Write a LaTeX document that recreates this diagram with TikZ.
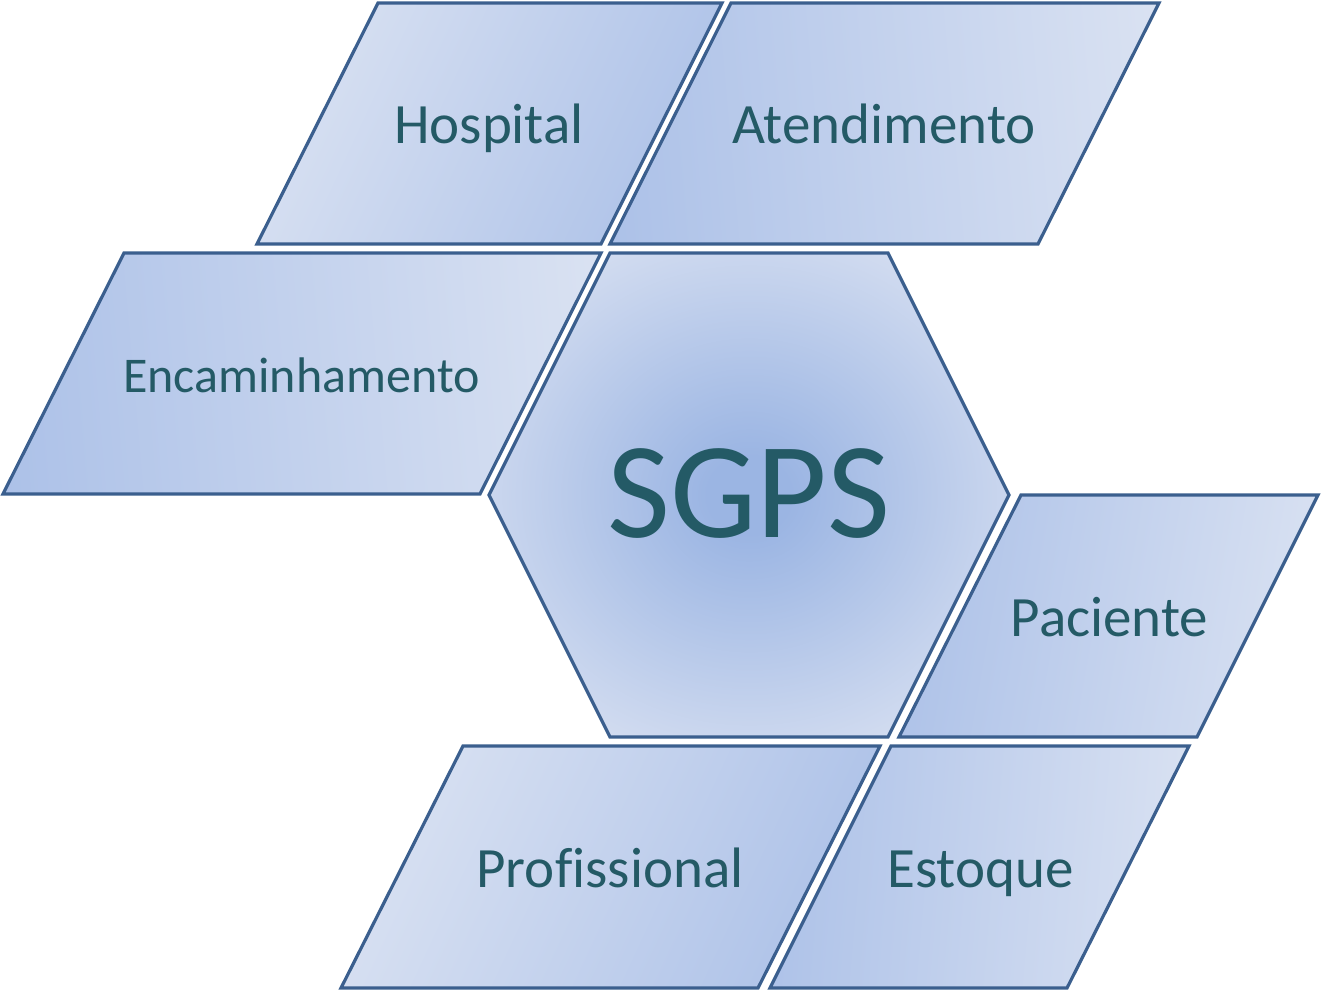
\documentclass[tikz,border=0pt]{standalone}
\usepackage{fontspec}
\setmainfont{Carlito}[Ligatures=NoCommon]
\definecolor{edgeblue}{RGB}{59,95,142}
\definecolor{txtteal}{RGB}{36,90,102}
\definecolor{tiledark}{RGB}{168,190,231}
\definecolor{tilelight}{RGB}{222,229,243}
\definecolor{hexdark}{RGB}{155,181,227}
\definecolor{hexlight}{RGB}{227,232,244}
\pgfdeclarehorizontalshading{ltod}{100bp}{color(0bp)=(tilelight); color(18bp)=(tilelight); color(82bp)=(tiledark); color(100bp)=(tiledark)}
\pgfdeclarehorizontalshading{dtol}{100bp}{color(0bp)=(tiledark); color(18bp)=(tiledark); color(82bp)=(tilelight); color(100bp)=(tilelight)}
\pgfdeclareradialshading{hexshade}{\pgfpoint{0bp}{0bp}}{color(0bp)=(hexdark); color(4bp)=(hexdark); color(36bp)=(hexlight); color(75bp)=(hexlight)}
\tikzset{
  tile/.style={draw=edgeblue, line width=3.2pt, line join=miter},
  lbl/.style={text=txtteal, anchor=base, inner sep=0pt, font=\fontsize{57}{60}\selectfont},
}
\begin{document}
\begin{tikzpicture}[x=1pt,y=-1pt]
\useasboundingbox (0,0) rectangle (1321,991);
% Hospital
\path[tile, shade, shading=ltod, shading angle=-25] (257,244) -- (378,3) -- (722,3) -- (601,244) -- cycle;
% Atendimento
\path[tile, shade, shading=dtol, shading angle=5] (610,244) -- (731,3) -- (1159,3) -- (1038,244) -- cycle;
% Encaminhamento
\path[tile, shade, shading=dtol, shading angle=5] (3,494) -- (124,253) -- (601,253) -- (480,494) -- cycle;
% Hexagon
\path[tile, shade, shading=hexshade] (489,495) -- (610,253) -- (888,253) -- (1009,495) -- (888,737) -- (610,737) -- cycle;
% Paciente
\path[tile, shade, shading=dtol, shading angle=-10] (899,737) -- (1021,495) -- (1318,495) -- (1197,737) -- cycle;
% Profissional
\path[tile, shade, shading=ltod, shading angle=-25] (341,988) -- (463,746) -- (880,746) -- (758,988) -- cycle;
% Estoque
\path[tile, shade, shading=dtol, shading angle=-5] (770,988) -- (891,746) -- (1189,746) -- (1067,988) -- cycle;
% Labels
\node[lbl] (hospital) at (489,143) {Hospital};
\node[lbl] (atend) at (884,143) {Atendimento};
\node[lbl, font=\fontsize{50}{54}\selectfont] (encam) at (301.5,392) {Encaminhamento};
\node[lbl, font=\fontsize{137}{140}\selectfont] (sgps) at (749,537) {SGPS};
\node[lbl] (paciente) at (1109.5,636) {Paciente};
\node[lbl] (prof) at (610,887) {Profissional};
\node[lbl] (estoque) at (980.5,887) {Estoque};
\end{tikzpicture}
\end{document}
